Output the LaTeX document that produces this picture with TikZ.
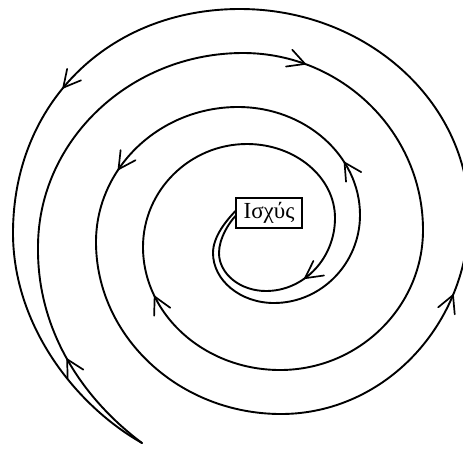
\documentclass[tikz,border=0pt]{standalone}
\usepackage{fontspec}
\setmainfont{Liberation Serif}
\begin{document}
\begin{tikzpicture}[x=1pt,y=-1pt,
  spiral/.style={line width=1.9pt, line join=round, line cap=round},
  lbl/.style={draw, line width=1.2pt, minimum width=66pt, minimum height=30pt, inner sep=0pt, fill=white, font=\fontsize{23}{27}\selectfont},
  barb/.pic={\draw[line width=1.7pt, line cap=round, line join=miter] (-17pt,9pt) -- (0pt,0pt) -- (-17pt,-9pt);},
  am/.style={sloped, allow upside down}
]
\useasboundingbox (0,0) rectangle (463,448);
\node[lbl] (box) at (269,213) {Ισχύς};
\coordinate (tip) at (142,443);
% outward spiral (from the box to the tip)
\draw[spiral] ([yshift=2pt]box.west) .. controls (227,220) and (213,236) .. (213,253)
  .. controls (213,280.5) and (240.5,303) .. (274,303)
  .. controls (321.3,303) and (360,263.4) .. (360,215)
  .. controls (360,155.6) and (305.1,107) .. pic[am, pos=0.32]{barb} (238,107)
  .. controls (159.9,107) and (96,167.7) .. pic[am, pos=0.64]{barb} (96,242)
  .. controls (96,336.6) and (179.2,414) .. (281,414)
  .. controls (384.4,414) and (469,324.5) .. pic[am, pos=0.74]{barb} (469,215)
  .. controls (469,101.7) and (366,9) .. (240,9)
  .. controls (108,9) and (13,104) .. pic[am, pos=0.56]{barb} (13,233)
  .. controls (13,325) and (75,405) .. (tip);
% inward spiral (from the tip back to the box)
\draw[spiral] (tip) .. controls (82,398) and (37,330) .. pic[am, pos=0.5]{barb} (38,247)
  .. controls (38,140.3) and (130.3,53) .. (243,53)
  .. controls (342,53) and (423,132.7) .. pic[am, pos=0.22]{barb} (423,230)
  .. controls (423,307) and (358.7,370) .. (280,370)
  .. controls (204.7,370) and (143,314.7) .. pic[am, pos=0.74]{barb} (143,247)
  .. controls (143,190.4) and (189.8,144) .. (247,144)
  .. controls (295.4,144) and (335,177.3) .. (335,218)
  .. controls (335,258.2) and (304,291) .. pic[am, pos=0.62]{barb} (266,291)
  .. controls (240.2,291) and (219,273.9) .. (219,253)
  .. controls (219,238) and (229,223) .. ([yshift=-3pt]box.west);
\end{tikzpicture}
\end{document}
